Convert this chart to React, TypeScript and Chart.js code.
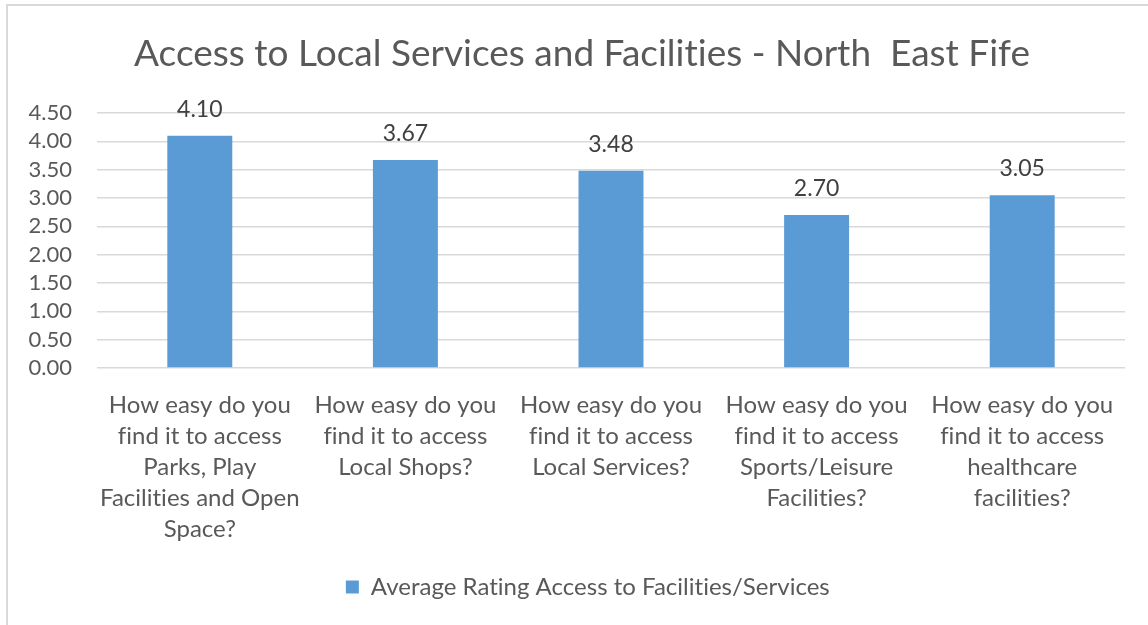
import React, { useEffect, useRef } from "react";
import { Chart, registerables } from "chart.js";

Chart.register(...registerables);

const titleText = "Access to Local Services and Facilities - North  East Fife";
const seriesName = "Average Rating Access to Facilities/Services";
const categories: string[][] = [
  ["How easy do you", "find it to access", "Parks, Play", "Facilities and Open", "Space?"],
  ["How easy do you", "find it to access", "Local Shops?"],
  ["How easy do you", "find it to access", "Local Services?"],
  ["How easy do you", "find it to access", "Sports/Leisure", "Facilities?"],
  ["How easy do you", "find it to access", "healthcare", "facilities?"],
];
const values: number[] = [4.1, 3.67, 3.48, 2.7, 3.05];
const yMin = 0;
const yMax = 4.5;
const yStep = 0.5;

const FONT = "Lato";
const TEXT = "#595959";

const valueLabels = {
  id: "valueLabels",
  afterDatasetsDraw(chart: any) {
    const ctx = chart.ctx;
    const meta = chart.getDatasetMeta(0);
    ctx.save();
    ctx.font = `23px ${FONT}`;
    ctx.fillStyle = "#404040";
    ctx.textAlign = "center";
    ctx.textBaseline = "alphabetic";
    meta.data.forEach((bar: any, i: number) => {
      ctx.fillText(values[i].toFixed(2), bar.x, bar.y - 19);
    });
    ctx.restore();
  },
};

// no ligatures (the original font has none), and shift the centring boxes of title and legend
const boxShift = {
  id: "boxShift",
  beforeInit(chart: any) {
    try { chart.ctx.letterSpacing = "0.01px"; } catch (e) { /* ignore */ }
  },
  beforeDraw(chart: any) {
    try { chart.ctx.letterSpacing = "0.01px"; } catch (e) { /* ignore */ }
  },
  afterLayout(chart: any) {
    if (chart.titleBlock) chart.titleBlock.left = 39;
    if (chart.legend) chart.legend.left = 51;
  },
};

export default function App() {
  const ref = useRef<HTMLCanvasElement | null>(null);
  useEffect(() => {
    if (!ref.current) return;
    const chart = new Chart(ref.current, {
      type: "bar",
      data: {
        labels: categories,
        datasets: [
          {
            label: seriesName,
            data: values,
            backgroundColor: "#5B9BD5",
            borderWidth: 0,
            categoryPercentage: 1,
            barPercentage: 0.316,
          },
        ],
      },
      options: {
        responsive: false,
        animation: false,
        layout: { padding: { left: 0, right: 23, top: 0, bottom: 16 } },
        plugins: {
          title: {
            display: true,
            text: titleText,
            color: TEXT,
            font: { family: FONT, size: 37, weight: "normal" },
            padding: { top: 32, bottom: 36.6 },
          },
          legend: {
            display: true,
            position: "bottom",
            labels: {
              boxWidth: 13,
              boxHeight: 13,
              padding: 9,
              color: TEXT,
              font: { family: FONT, size: 24 },
            },
          },
          tooltip: { enabled: false },
        },
        scales: {
          x: {
            grid: { display: false, drawTicks: false },
            border: { display: false },
            ticks: {
              color: TEXT,
              padding: 22,
              maxRotation: 0,
              autoSkip: false,
              font: { family: FONT, size: 24, lineHeight: "31px" },
            },
            afterFit: (scale: any) => {
              scale.height = 198;
            },
          },
          y: {
            min: yMin,
            max: yMax,
            grid: { color: "#d9d9d9", lineWidth: 1.5, drawTicks: false },
            border: { display: false },
            ticks: {
              stepSize: yStep,
              autoSkip: false,
              color: TEXT,
              padding: 25,
              font: { family: FONT, size: 22 },
              callback: (v: any) => Number(v).toFixed(2),
            },
            afterFit: (scale: any) => {
              scale.width = 97;
            },
          },
        },
      },
      plugins: [valueLabels, boxShift],
    });
    return () => chart.destroy();
  }, []);

  return (
    <div style={{ position: "absolute", left: 0, top: 0, width: 1148, height: 625, background: "#fff", overflow: "hidden" }}>
      <div
        style={{
          position: "absolute",
          left: 6,
          top: 4,
          width: 1160,
          height: 640,
          border: "2px solid #d9d9d9",
          boxSizing: "border-box",
        }}
      />
      <canvas ref={ref} width={1148} height={625} style={{ position: "absolute", left: 0, top: 0 }} />
    </div>
  );
}
